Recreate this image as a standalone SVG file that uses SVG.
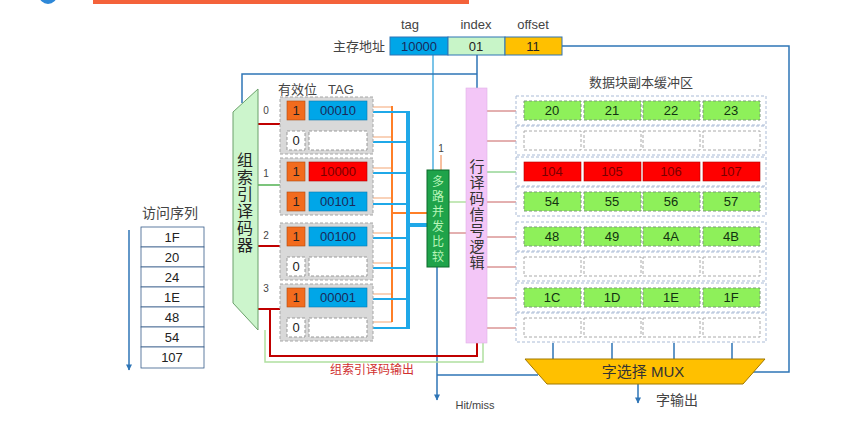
<svg xmlns="http://www.w3.org/2000/svg" width="857" height="426" viewBox="0 0 857 426">
<style>
text{font-family:"Liberation Sans","Noto Sans CJK SC",sans-serif}
.lbl{font-size:13px;fill:#444}
.grp{fill:#d9d9d9;stroke:#a6a6a6;stroke-dasharray:3,2}
.vb1{fill:#f26b1d;stroke:#b04a10;stroke-width:0.6}
.vb0{fill:#fff;stroke:#999;stroke-dasharray:3,2}
.tb{fill:#00a6e8;stroke:#0a7ab0;stroke-width:0.6}
.tr{fill:#ff0000;stroke:#b00000;stroke-width:0.6}
.te{fill:#fff;stroke:#999;stroke-dasharray:3,2}
.ct{font-size:13px;text-anchor:middle;fill:#1a2a5a}
.ctr{font-size:13px;text-anchor:middle;fill:#7a0000}
.ctb{font-size:13px;text-anchor:middle;fill:#222}
.rowbox{fill:#fff;stroke:#aabbd6;stroke-dasharray:3,2}
.cg{fill:#8ef05a;stroke:#7a9a7a;stroke-dasharray:3,2}
.cr{fill:#ff0000;stroke:#b00000;stroke-width:0.6}
.ce{fill:#fff;stroke:#aaa;stroke-dasharray:3,2}
.dt{font-size:13px;text-anchor:middle;fill:#113311}
.dtr{font-size:13px;text-anchor:middle;fill:#7a0000}
.blue{stroke:#2e75b6;stroke-width:1.5;fill:none}
.lblue{stroke:#4fb0e0;stroke-width:1.5;fill:none}
.red{stroke:#c00000;stroke-width:2;fill:none}
.green{stroke:#50b050;stroke-width:1.5;fill:none}
.lgreen{stroke:#b0e0a0;stroke-width:1.5;fill:none}
.thinred{stroke:#c86060;stroke-width:1;fill:none}
.thingreen{stroke:#60c060;stroke-width:1;fill:none}
.or{stroke:#ff7f27;stroke-width:2;fill:none}
.orl{stroke:#f6b48a;stroke-width:1.2;fill:none}
.bl{stroke:#1fa8e8;stroke-width:2;fill:none}
.blt{stroke:#1fa8e8;stroke-width:4;fill:none}
.vt{font-size:15px;text-anchor:middle}
.seq{fill:#fff;stroke:#385d8a;stroke-width:0.8}
</style>
<defs>
<marker id="arrd" viewBox="0 0 10 10" refX="5" refY="9" markerWidth="6" markerHeight="7" orient="0" markerUnits="userSpaceOnUse">
<path d="M0,0 L10,0 L5,10 z" fill="#2e75b6"/>
</marker>
</defs>

<!-- top decorations -->
<g id="top-bar">
<rect x="93" y="-4" width="376" height="8" fill="#f4623a"/>
<circle cx="48" cy="-5" r="9" fill="#2e88d8"/>
</g>

<!-- connectors -->
<g id="connectors">
<polyline class="lblue" points="433,55 433,170"/>
<polyline class="blue" points="437,267 437,400" marker-end="url(#arrd)"/>
<polyline class="blue" points="437,375 538,375"/>
<polyline class="blue" points="477,55 477,88"/>
<polyline class="blue" points="477,74 242,74 242,103"/>
<polyline class="blue" points="562,46 789,46 789,372 752,372"/>
<line class="red" x1="258" y1="124" x2="280" y2="124"/>
<line class="green" x1="258" y1="185" x2="280" y2="185"/>
<line class="red" x1="258" y1="246" x2="280" y2="246"/>
<line class="red" x1="258" y1="309" x2="280" y2="309"/>
<polyline class="red" points="270,309 270,356 477,356 477,343"/>
<polyline class="lgreen" points="265,330 265,362 483,362 483,343"/>
<g>
<line class="orl" x1="373" y1="107" x2="392" y2="107"/>
<line class="orl" x1="373" y1="137" x2="392" y2="137"/>
<line class="orl" x1="373" y1="168" x2="392" y2="168"/>
<line class="orl" x1="373" y1="198" x2="392" y2="198"/>
<line class="orl" x1="373" y1="233" x2="392" y2="233"/>
<line class="orl" x1="373" y1="263" x2="392" y2="263"/>
<line class="orl" x1="373" y1="294" x2="392" y2="294"/>
<line class="orl" x1="373" y1="322" x2="392" y2="322"/>
<line class="or" x1="392" y1="106" x2="392" y2="322"/>
<line class="or" x1="392" y1="213" x2="427" y2="213"/>
<line class="bl" x1="373" y1="112" x2="408" y2="112"/>
<line class="bl" x1="373" y1="142" x2="408" y2="142"/>
<line class="bl" x1="373" y1="173" x2="408" y2="173"/>
<line class="bl" x1="373" y1="204" x2="408" y2="204"/>
<line class="bl" x1="373" y1="238" x2="408" y2="238"/>
<line class="bl" x1="373" y1="268" x2="408" y2="268"/>
<line class="bl" x1="373" y1="299" x2="408" y2="299"/>
<line class="bl" x1="373" y1="328" x2="408" y2="328"/>
<line class="blt" x1="408" y1="111" x2="408" y2="329"/>
<line class="blt" x1="408" y1="225" x2="427" y2="225"/>
</g>
<line stroke="#f08040" stroke-width="1" x1="441" y1="155" x2="441" y2="170"/>
<line class="lgreen" x1="449" y1="202" x2="466" y2="202"/>
<line class="thinred" x1="449" y1="233" x2="466" y2="233"/>
<line class="thinred" x1="487" y1="111" x2="524" y2="111"/>
<line class="thinred" x1="487" y1="141" x2="524" y2="141"/>
<line class="thingreen" x1="487" y1="172" x2="524" y2="172"/>
<line class="thinred" x1="487" y1="202" x2="524" y2="202"/>
<line class="thinred" x1="487" y1="237" x2="524" y2="237"/>
<line class="thinred" x1="487" y1="267" x2="524" y2="267"/>
<line class="thinred" x1="487" y1="298" x2="524" y2="298"/>
<line class="thinred" x1="487" y1="328" x2="524" y2="328"/>
<line class="blue" x1="553" y1="343" x2="553" y2="359"/>
<line class="blue" x1="612" y1="343" x2="612" y2="359"/>
<line class="blue" x1="674" y1="343" x2="674" y2="359"/>
<line class="blue" x1="732" y1="343" x2="732" y2="359"/>
<line class="blue" x1="638" y1="384" x2="638" y2="403" marker-end="url(#arrd)"/>
<line class="blue" x1="129" y1="230" x2="129" y2="370" marker-end="url(#arrd)"/>
</g>

<g id="address">
<text x="410" y="29" class="lbl" text-anchor="middle" font-size="14">tag</text>
<text x="476" y="29" class="lbl" text-anchor="middle" font-size="14">index</text>
<text x="533" y="29" class="lbl" text-anchor="middle" font-size="14">offset</text>
<text x="385" y="51" class="lbl" text-anchor="end" font-size="14">主存地址</text>
<rect x="390" y="37" width="58" height="18" fill="#00a6e8" stroke="#2e75b6"/>
<rect x="448" y="37" width="57" height="18" fill="#c8f5c8" stroke="#2e75b6"/>
<rect x="505" y="37" width="57" height="18" fill="#ffc000" stroke="#2e75b6"/>
<text x="419" y="51" class="ct" font-size="14">10000</text>
<text x="476" y="51" class="ctb" font-size="14">01</text>
<text x="533" y="51" class="ctb" font-size="14">11</text>
</g>

<g id="group-decoder">
<polygon points="258,89 258,330 233,303 233,112" fill="#ccf5cc" stroke="#6aa06a"/>
<g class="vt" fill="#222" font-size="16">
<text x="245" y="166" font-size="16">组</text>
<text x="245" y="183" font-size="16">索</text>
<text x="245" y="200" font-size="16">引</text>
<text x="245" y="217" font-size="16">译</text>
<text x="245" y="234" font-size="16">码</text>
<text x="245" y="251" font-size="16">器</text>
</g>
<text x="266" y="114" font-size="10" fill="#444" text-anchor="middle">0</text>
<text x="266" y="177" font-size="10" fill="#444" text-anchor="middle">1</text>
<text x="266" y="239" font-size="10" fill="#444" text-anchor="middle">2</text>
<text x="266" y="292" font-size="10" fill="#444" text-anchor="middle">3</text>
<text x="372" y="374" font-size="12" fill="#d03030" text-anchor="middle">组索引译码输出</text>
</g>

<g id="tag-store">
<text x="278" y="94" class="lbl" font-size="14">有效位</text>
<text x="328" y="94" class="lbl" font-size="14">TAG</text>
<rect class="grp" x="280" y="97" width="93" height="57"/>
<rect class="grp" x="280" y="158" width="93" height="57"/>
<rect class="grp" x="280" y="223" width="93" height="57"/>
<rect class="grp" x="280" y="284" width="93" height="57"/>
<g id="tag-row0"><rect class="vb1" x="287" y="101" width="18" height="19"/><text class="ctb" x="296" y="115">1</text><rect class="tb" x="309" y="101" width="58" height="19"/><text class="ct" x="338" y="115">00010</text></g>
<g id="tag-row1"><rect class="vb0" x="287" y="131" width="18" height="19"/><text class="ctb" x="296" y="145">0</text><rect class="te" x="309" y="131" width="58" height="19"/></g>
<g id="tag-row2"><rect class="vb1" x="287" y="162" width="18" height="19"/><text class="ctb" x="296" y="176">1</text><rect class="tr" x="309" y="162" width="58" height="19"/><text class="ctr" x="338" y="176">10000</text></g>
<g id="tag-row3"><rect class="vb1" x="287" y="192" width="18" height="19"/><text class="ctb" x="296" y="206">1</text><rect class="tb" x="309" y="192" width="58" height="19"/><text class="ct" x="338" y="206">00101</text></g>
<g id="tag-row4"><rect class="vb1" x="287" y="227" width="18" height="19"/><text class="ctb" x="296" y="241">1</text><rect class="tb" x="309" y="227" width="58" height="19"/><text class="ct" x="338" y="241">00100</text></g>
<g id="tag-row5"><rect class="vb0" x="287" y="257" width="18" height="19"/><text class="ctb" x="296" y="271">0</text><rect class="te" x="309" y="257" width="58" height="19"/></g>
<g id="tag-row6"><rect class="vb1" x="287" y="288" width="18" height="19"/><text class="ctb" x="296" y="302">1</text><rect class="tb" x="309" y="288" width="58" height="19"/><text class="ct" x="338" y="302">00001</text></g>
<g id="tag-row7"><rect class="vb0" x="287" y="318" width="18" height="19"/><text class="ctb" x="296" y="332">0</text><rect class="te" x="309" y="318" width="58" height="19"/></g>
</g>

<g id="comparator">
<text x="441" y="152" font-size="10" fill="#444" text-anchor="middle">1</text>
<rect x="427" y="170" width="22" height="97" fill="#1fa34a" stroke="#0d6a2a"/>
<g font-size="12" fill="#b8f5b8" text-anchor="middle">
<text x="438" y="186">多</text>
<text x="438" y="201">路</text>
<text x="438" y="216">并</text>
<text x="438" y="231">发</text>
<text x="438" y="246">比</text>
<text x="438" y="261">较</text>
</g>
</g>

<g id="row-decoder">
<rect x="466" y="88" width="21" height="255" fill="#f3c6f7" stroke="#e0b0e8" stroke-width="0.6"/>
<g font-size="15" fill="#333" text-anchor="middle">
<text x="477" y="172">行</text>
<text x="477" y="188">译</text>
<text x="477" y="204">码</text>
<text x="477" y="220">信</text>
<text x="477" y="236">号</text>
<text x="477" y="252">逻</text>
<text x="477" y="268">辑</text>
</g>
</g>

<g id="data-buffer">
<text x="641" y="87" class="lbl" font-size="14" text-anchor="middle">数据块副本缓冲区</text>
<g id="data-row0"><rect class="rowbox" x="516" y="96" width="250" height="29"/>
<rect class="cg" x="524" y="101" width="57" height="19"/><rect class="cg" x="584" y="101" width="57" height="19"/><rect class="cg" x="643" y="101" width="57" height="19"/><rect class="cg" x="703" y="101" width="57" height="19"/>
<text class="dt" x="552" y="115">20</text><text class="dt" x="612" y="115">21</text><text class="dt" x="671" y="115">22</text><text class="dt" x="731" y="115">23</text></g>
<g id="data-row1"><rect class="rowbox" x="516" y="126" width="250" height="29"/>
<rect class="ce" x="524" y="131" width="57" height="19"/><rect class="ce" x="584" y="131" width="57" height="19"/><rect class="ce" x="643" y="131" width="57" height="19"/><rect class="ce" x="703" y="131" width="57" height="19"/></g>
<g id="data-row2"><rect class="rowbox" x="516" y="157" width="250" height="29"/>
<rect class="cr" x="524" y="162" width="57" height="19"/><rect class="cr" x="584" y="162" width="57" height="19"/><rect class="cr" x="643" y="162" width="57" height="19"/><rect class="cr" x="703" y="162" width="57" height="19"/>
<text class="dtr" x="552" y="176">104</text><text class="dtr" x="612" y="176">105</text><text class="dtr" x="671" y="176">106</text><text class="dtr" x="731" y="176">107</text></g>
<g id="data-row3"><rect class="rowbox" x="516" y="187" width="250" height="29"/>
<rect class="cg" x="524" y="192" width="57" height="19"/><rect class="cg" x="584" y="192" width="57" height="19"/><rect class="cg" x="643" y="192" width="57" height="19"/><rect class="cg" x="703" y="192" width="57" height="19"/>
<text class="dt" x="552" y="206">54</text><text class="dt" x="612" y="206">55</text><text class="dt" x="671" y="206">56</text><text class="dt" x="731" y="206">57</text></g>
<g id="data-row4"><rect class="rowbox" x="516" y="222" width="250" height="29"/>
<rect class="cg" x="524" y="227" width="57" height="19"/><rect class="cg" x="584" y="227" width="57" height="19"/><rect class="cg" x="643" y="227" width="57" height="19"/><rect class="cg" x="703" y="227" width="57" height="19"/>
<text class="dt" x="552" y="241">48</text><text class="dt" x="612" y="241">49</text><text class="dt" x="671" y="241">4A</text><text class="dt" x="731" y="241">4B</text></g>
<g id="data-row5"><rect class="rowbox" x="516" y="252" width="250" height="29"/>
<rect class="ce" x="524" y="257" width="57" height="19"/><rect class="ce" x="584" y="257" width="57" height="19"/><rect class="ce" x="643" y="257" width="57" height="19"/><rect class="ce" x="703" y="257" width="57" height="19"/></g>
<g id="data-row6"><rect class="rowbox" x="516" y="283" width="250" height="29"/>
<rect class="cg" x="524" y="288" width="57" height="19"/><rect class="cg" x="584" y="288" width="57" height="19"/><rect class="cg" x="643" y="288" width="57" height="19"/><rect class="cg" x="703" y="288" width="57" height="19"/>
<text class="dt" x="552" y="302">1C</text><text class="dt" x="612" y="302">1D</text><text class="dt" x="671" y="302">1E</text><text class="dt" x="731" y="302">1F</text></g>
<g id="data-row7"><rect class="rowbox" x="516" y="313" width="250" height="29"/>
<rect class="ce" x="524" y="318" width="57" height="19"/><rect class="ce" x="584" y="318" width="57" height="19"/><rect class="ce" x="643" y="318" width="57" height="19"/><rect class="ce" x="703" y="318" width="57" height="19"/></g>
</g>

<g id="mux">
<polygon points="525,359 765,359 743,384 547,384" fill="#ffc000" stroke="#a07800"/>
<text x="643" y="377" font-size="15" fill="#333" text-anchor="middle">字选择 MUX</text>
<text x="677" y="405" font-size="14" fill="#444" text-anchor="middle">字输出</text>
</g>

<g id="hitmiss">
<text x="475" y="409" font-size="11" fill="#444" text-anchor="middle">Hit/miss</text>
</g>

<g id="sequence">
<text x="170" y="218" font-size="14" fill="#444" text-anchor="middle">访问序列</text>
<rect class="seq" x="141" y="227" width="63" height="20"/>
<rect class="seq" x="141" y="247" width="63" height="20"/>
<rect class="seq" x="141" y="267" width="63" height="20"/>
<rect class="seq" x="141" y="287" width="63" height="20"/>
<rect class="seq" x="141" y="307" width="63" height="20"/>
<rect class="seq" x="141" y="327" width="63" height="20"/>
<rect class="seq" x="141" y="347" width="63" height="21"/>
<g font-size="13" fill="#222" text-anchor="middle">
<text x="172" y="242">1F</text>
<text x="172" y="262">20</text>
<text x="172" y="282">24</text>
<text x="172" y="302">1E</text>
<text x="172" y="322">48</text>
<text x="172" y="342">54</text>
<text x="172" y="362">107</text>
</g>
</g>
</svg>
